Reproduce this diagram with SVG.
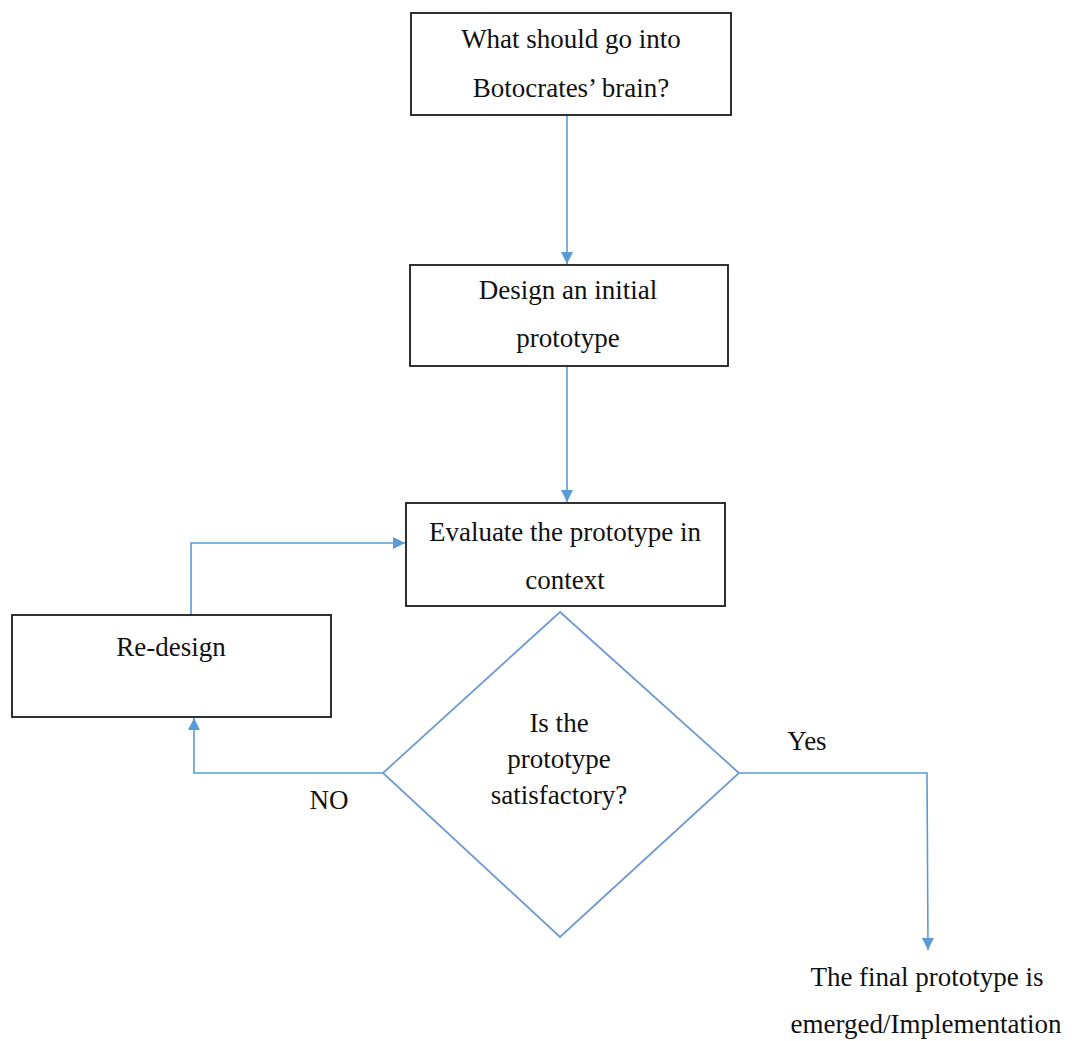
<svg xmlns="http://www.w3.org/2000/svg" width="1072" height="1041" viewBox="0 0 1072 1041">
  <style>
    .box { fill: #ffffff; stroke: #1a1a1a; stroke-width: 1.8; }
    .dec { fill: #ffffff; stroke: #6f9bcf; stroke-width: 1.8; }
    .lbl { font-family: "Liberation Serif", "Times New Roman", serif; font-size: 27px; fill: #111111; text-anchor: middle; }
    .edge { fill: none; stroke: #5b9bd5; stroke-width: 1.6; }
  </style>
  <defs>
    <marker id="arrow" viewBox="0 0 10 10" refX="10" refY="5" markerWidth="12" markerHeight="12" markerUnits="userSpaceOnUse" orient="auto">
      <path d="M0,0 L10,5 L0,10 Z" fill="#5b9bd5"/>
    </marker>
  </defs>
  <rect width="1072" height="1041" fill="#ffffff"/>

  <g id="connectors">
    <path class="edge" d="M567,116 L567,264" marker-end="url(#arrow)"/>
    <path class="edge" d="M567,367 L567,502" marker-end="url(#arrow)"/>
    <path class="edge" d="M383,773 L194,773 L194,718" marker-end="url(#arrow)"/>
    <path class="edge" d="M191,615 L191,543 L405,543" marker-end="url(#arrow)"/>
    <path class="edge" d="M739,773 L927,773 L928,950" marker-end="url(#arrow)"/>
    <text class="lbl" x="329" y="809">NO</text>
    <text class="lbl" x="807" y="750">Yes</text>
  </g>

  <g id="start">
    <rect class="box" x="411" y="13" width="320" height="102"/>
    <text class="lbl" x="571" y="48">What should go into</text>
    <text class="lbl" x="571" y="97">Botocrates’ brain?</text>
  </g>

  <g id="design">
    <rect class="box" x="410" y="265" width="318" height="101"/>
    <text class="lbl" x="568" y="299">Design an initial</text>
    <text class="lbl" x="568" y="347">prototype</text>
  </g>

  <g id="evaluate">
    <rect class="box" x="406" y="503" width="319" height="103"/>
    <text class="lbl" x="565" y="541">Evaluate the prototype in</text>
    <text class="lbl" x="565" y="589">context</text>
  </g>

  <g id="redesign">
    <rect class="box" x="12" y="615" width="319" height="102"/>
    <text class="lbl" x="171" y="656">Re-design</text>
  </g>

  <g id="decision">
    <polygon class="dec" points="560,612 739,773 560,937 383,773"/>
    <text class="lbl" x="559" y="732">Is the</text>
    <text class="lbl" x="559" y="768">prototype</text>
    <text class="lbl" x="559" y="804">satisfactory?</text>
  </g>

  <g id="final">
    <text class="lbl" x="927" y="986">The final prototype is</text>
    <text class="lbl" x="926" y="1033">emerged/Implementation</text>
  </g>
</svg>
